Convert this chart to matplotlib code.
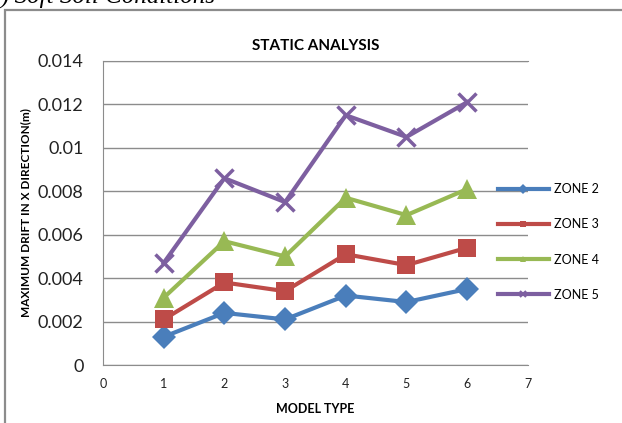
import matplotlib
matplotlib.use('Agg')
import matplotlib.pyplot as plt
from matplotlib.patches import Rectangle
from matplotlib.lines import Line2D

plt.rcParams['font.family'] = ['Lato', 'DejaVu Sans']

# data
model_type = [1, 2, 3, 4, 5, 6]
zone2 = [0.0013, 0.0024, 0.0021, 0.0032, 0.0029, 0.0035]
zone3 = [0.0021, 0.0038, 0.0034, 0.0051, 0.0046, 0.0054]
zone4 = [0.0031, 0.0057, 0.0050, 0.0077, 0.0069, 0.0081]
zone5 = [0.0047, 0.0086, 0.0075, 0.0115, 0.0105, 0.0121]
labels = ['ZONE 2', 'ZONE 3', 'ZONE 4', 'ZONE 5']
y_ticks = [0, 0.002, 0.004, 0.006, 0.008, 0.01, 0.012, 0.014]
y_tick_labels = ['0', '0.002', '0.004', '0.006', '0.008', '0.01', '0.012', '0.014']
x_ticks = [0, 1, 2, 3, 4, 5, 6, 7]

colors = ['#4a7ebb', '#be4b48', '#98b954', '#7d5fa0']
markers = ['D', 's', '^', 'x']
msizes = [12, 13, 14, 13]

fig = plt.figure(figsize=(6.22, 4.23), dpi=100)
ax = fig.add_axes([0.1656, 0.137, 0.683, 0.719])

series = [zone2, zone3, zone4, zone5]
for vals, c, m, ms in zip(series, colors, markers, msizes):
    ax.plot(model_type, vals, color=c, linewidth=3, marker=m, markersize=ms,
            markeredgewidth=2.5 if m == 'x' else 0, markeredgecolor=c,
            solid_joinstyle='round', zorder=3)

ax.set_xlim(0, 7)
ax.set_ylim(0, 0.014)
ax.set_xticks(x_ticks)
ax.set_yticks(y_ticks)
ax.set_yticklabels(y_tick_labels)
ax.tick_params(axis='y', labelsize=13, length=0, pad=14, colors='#222222')
ax.tick_params(axis='x', labelsize=9, length=0, pad=9, colors='#222222')
ax.grid(axis='y', color='#8c8c8c', linewidth=1)
ax.set_axisbelow(True)
ax.spines['right'].set_visible(False)
for s in ['left', 'bottom', 'top']:
    ax.spines[s].set_color('#8c8c8c')

ax.set_title('STATIC ANALYSIS', fontsize=11, fontweight='bold', pad=8)
ax.set_xlabel('MODEL TYPE', fontsize=9, fontweight='bold', labelpad=10)
ax.set_ylabel('MAXIMUM DRIFT IN X DIRECTION(m)', fontsize=8.5, fontweight='bold', labelpad=5)

# legend with small markers like the reference
handles = [Line2D([0], [0], color=c, linewidth=3, marker=m, markersize=5,
                  markeredgewidth=1.5 if m == 'x' else 0, markeredgecolor=c)
           for c, m in zip(colors, markers)]
fig.legend(handles, labels, loc='center left', bbox_to_anchor=(0.79, 0.428),
           frameon=False, fontsize=9, handlelength=4.1, handletextpad=0.4,
           labelspacing=1.85, borderpad=0)

# outer chart border, cut by the page edges
fig.add_artist(Rectangle((5 / 622, -0.05), 1.1, 1 - 10 / 423 + 0.05,
                         transform=fig.transFigure, fill=False,
                         edgecolor='#8c8c8c', linewidth=1.6, clip_on=False))

# caption cut off at the top of the image
fig.text(0.0, 1 - 3 / 423, ') Soft Soil Conditions', fontsize=18, style='italic',
         family='Liberation Serif', va='baseline', ha='left')

fig.savefig('out.png', dpi=100)
